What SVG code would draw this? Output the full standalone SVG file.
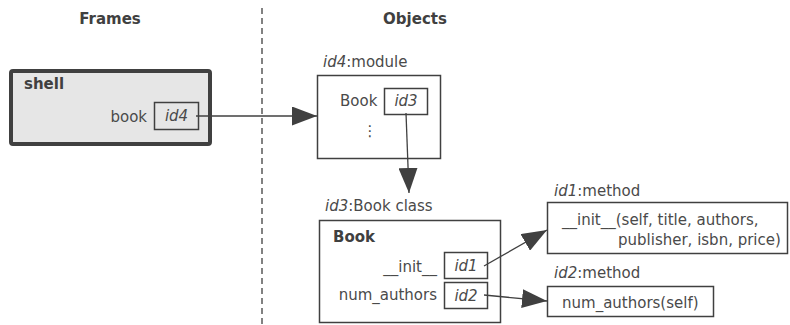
<svg xmlns="http://www.w3.org/2000/svg" width="790" height="325" viewBox="0 0 790 325">
<defs>
<style>
text{font-family:"DejaVu Sans","Liberation Sans",sans-serif;font-size:15px;fill:#4a4a4a}
.b{font-weight:bold;fill:#404040}
.i{font-style:italic}
.box{fill:#fff;stroke:#404040;stroke-width:1.5}
.conn{stroke:#404040;stroke-width:1.3;fill:none;marker-end:url(#ah)}
</style>
<marker id="ah" markerUnits="userSpaceOnUse" markerWidth="25" markerHeight="19" refX="25" refY="9.5" orient="auto" viewBox="0 0 25 19"><path d="M0,0 L25,9.5 L0,19 z" fill="#404040"/></marker>
</defs>
<rect width="790" height="325" fill="#fff"/>
<text class="b" x="110" y="24" text-anchor="middle">Frames</text>
<text class="b" x="415" y="24" text-anchor="middle">Objects</text>
<line x1="262" y1="8" x2="262" y2="325" stroke="#404040" stroke-width="1.3" stroke-dasharray="6,4"/>
<g id="shell">
<rect x="11" y="71" width="199" height="73" rx="2" fill="#e6e6e6" stroke="#404040" stroke-width="4"/>
<text class="b" x="24" y="89">shell</text>
<text x="147" y="122" text-anchor="end">book</text>
<rect class="box" x="154.5" y="102.5" width="44" height="27" fill="#e6e6e6" style="fill:#e6e6e6"/>
<text class="i" x="176.5" y="121" text-anchor="middle">id4</text>
</g>
<g id="module">
<text x="323" y="67"><tspan class="i">id4</tspan>:module</text>
<rect class="box" x="317.5" y="75.5" width="123" height="83"/>
<text x="340" y="106">Book</text>
<rect class="box" x="384.5" y="88.5" width="43" height="26"/>
<text class="i" x="406" y="106" text-anchor="middle">id3</text>
<text x="370" y="136" text-anchor="middle">⋮</text>
</g>
<g id="bookclass">
<text x="325" y="211"><tspan class="i">id3</tspan>:Book class</text>
<rect class="box" x="319.5" y="220.5" width="181" height="102"/>
<text class="b" x="333" y="242">Book</text>
<text x="437" y="272" text-anchor="end">__init__</text>
<text x="437" y="300" text-anchor="end">num_authors</text>
<rect class="box" x="444.5" y="252.5" width="43" height="26"/>
<text class="i" x="466" y="271" text-anchor="middle">id1</text>
<rect class="box" x="444.5" y="282.5" width="43" height="26"/>
<text class="i" x="466" y="301" text-anchor="middle">id2</text>
</g>
<g id="initmethod">
<text x="554" y="196"><tspan class="i">id1</tspan>:method</text>
<rect class="box" x="547.5" y="202.5" width="240" height="51"/>
<text x="562" y="225">__init__(self, title, authors,</text>
<text x="618" y="245">publisher, isbn, price)</text>
</g>
<g id="nummethod">
<text x="554" y="278"><tspan class="i">id2</tspan>:method</text>
<rect class="box" x="547.5" y="286.5" width="166" height="30"/>
<text x="562" y="308">num_authors(self)</text>
</g>
<g id="connectors">
<line class="conn" x1="196" y1="116" x2="317" y2="116"/>
<line class="conn" x1="406" y1="113" x2="409" y2="193"/>
<line class="conn" x1="484" y1="266" x2="547" y2="230"/>
<line class="conn" x1="484" y1="295" x2="547" y2="301"/>
</g>
</svg>
